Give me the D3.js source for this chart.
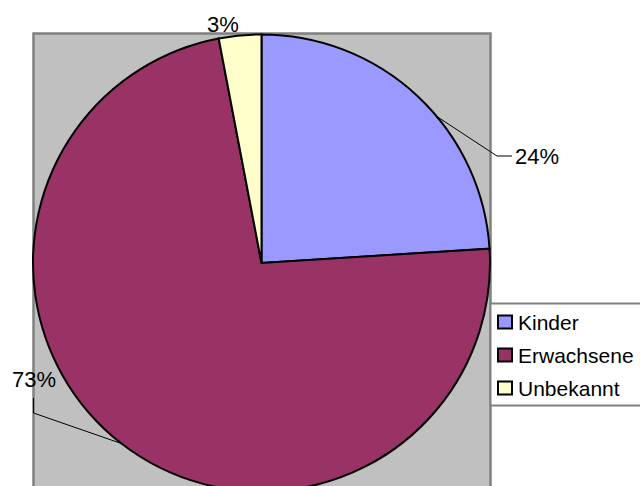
<!DOCTYPE html>
<html>
<head>
<meta charset="utf-8">
<script src="https://cdn.jsdelivr.net/npm/d3@7"></script>
<style>
  body { margin: 0; background: #fff; }
  text { font-family: "Liberation Sans", Arial, sans-serif; }
</style>
</head>
<body>
<div id="chart"></div>
<script>
// Data
const categories = ["Kinder", "Erwachsene", "Unbekannt"];
const values = [24, 73, 3];
const labels = ["24%", "73%", "3%"];
const colors = ["#9999ff", "#993366", "#ffffcc"];

const width = 640;
const height = 486;

const svg = d3.select("#chart")
  .append("svg")
  .attr("width", width)
  .attr("height", height);

// Plot area (runs off the bottom of the picture)
const plot = {x: 33.5, y: 33.5, w: 457, h: 470};
svg.append("rect")
  .attr("x", plot.x)
  .attr("y", plot.y)
  .attr("width", plot.w)
  .attr("height", plot.h)
  .attr("fill", "#c0c0c0")
  .attr("stroke", "#808080")
  .attr("stroke-width", 2.5);

const cx = 261.5, cy = 263, r = 228.5;

const pie = d3.pie().sort(null).value(d => d);
const arcs = pie(values);
const arc = d3.arc().innerRadius(0).outerRadius(r);

const g = svg.append("g").attr("transform", `translate(${cx},${cy})`);

g.selectAll("path")
  .data(arcs)
  .enter()
  .append("path")
  .attr("d", arc)
  .attr("fill", (d, i) => colors[i])
  .attr("stroke", "#000")
  .attr("stroke-width", 2)
  .attr("stroke-linejoin", "miter");

// point on the rim at a given fraction through a slice
function rim(d, f) {
  const a = d.startAngle + (d.endAngle - d.startAngle) * f;
  return [cx + r * Math.sin(a), cy - r * Math.cos(a)];
}

// Leader lines
const p0 = rim(arcs[0], 0.58);
svg.append("polyline")
  .attr("points", `${p0[0]},${p0[1]} 497,156 512,156`)
  .attr("fill", "none")
  .attr("stroke", "#000")
  .attr("stroke-width", 1);

const p1 = rim(arcs[1], 0.5);
svg.append("polyline")
  .attr("points", `33.5,398 33.5,413 ${p1[0]},${p1[1]}`)
  .attr("fill", "none")
  .attr("stroke", "#000")
  .attr("stroke-width", 1);

// Data labels
const labelPos = [[515, 164], [12, 387], [207, 32]];
svg.selectAll(".lbl")
  .data(labels)
  .enter()
  .append("text")
  .attr("class", "lbl")
  .attr("x", (d, i) => labelPos[i][0])
  .attr("y", (d, i) => labelPos[i][1])
  .style("font-size", "22px")
  .attr("fill", "#000")
  .text(d => d);

// Legend
const legend = svg.append("g").attr("transform", "translate(490.5,303.5)");
legend.append("rect")
  .attr("x", 0)
  .attr("y", 0)
  .attr("width", 160)
  .attr("height", 102)
  .attr("fill", "#fff")
  .attr("stroke", "#808080")
  .attr("stroke-width", 2);

const rowY = d3.scalePoint().domain(categories).range([18.5, 84.5]);

legend.selectAll(".sw")
  .data(categories)
  .enter()
  .append("rect")
  .attr("class", "sw")
  .attr("x", 7.5)
  .attr("y", d => rowY(d) - 6.5)
  .attr("width", 14)
  .attr("height", 13)
  .attr("fill", (d, i) => colors[i])
  .attr("stroke", "#000")
  .attr("stroke-width", 2);

legend.selectAll(".lt")
  .data(categories)
  .enter()
  .append("text")
  .attr("class", "lt")
  .attr("x", 27.5)
  .attr("y", d => rowY(d) + 7.5)
  .style("font-size", "21px")
  .attr("fill", "#000")
  .text(d => d);
</script>
</body>
</html>
